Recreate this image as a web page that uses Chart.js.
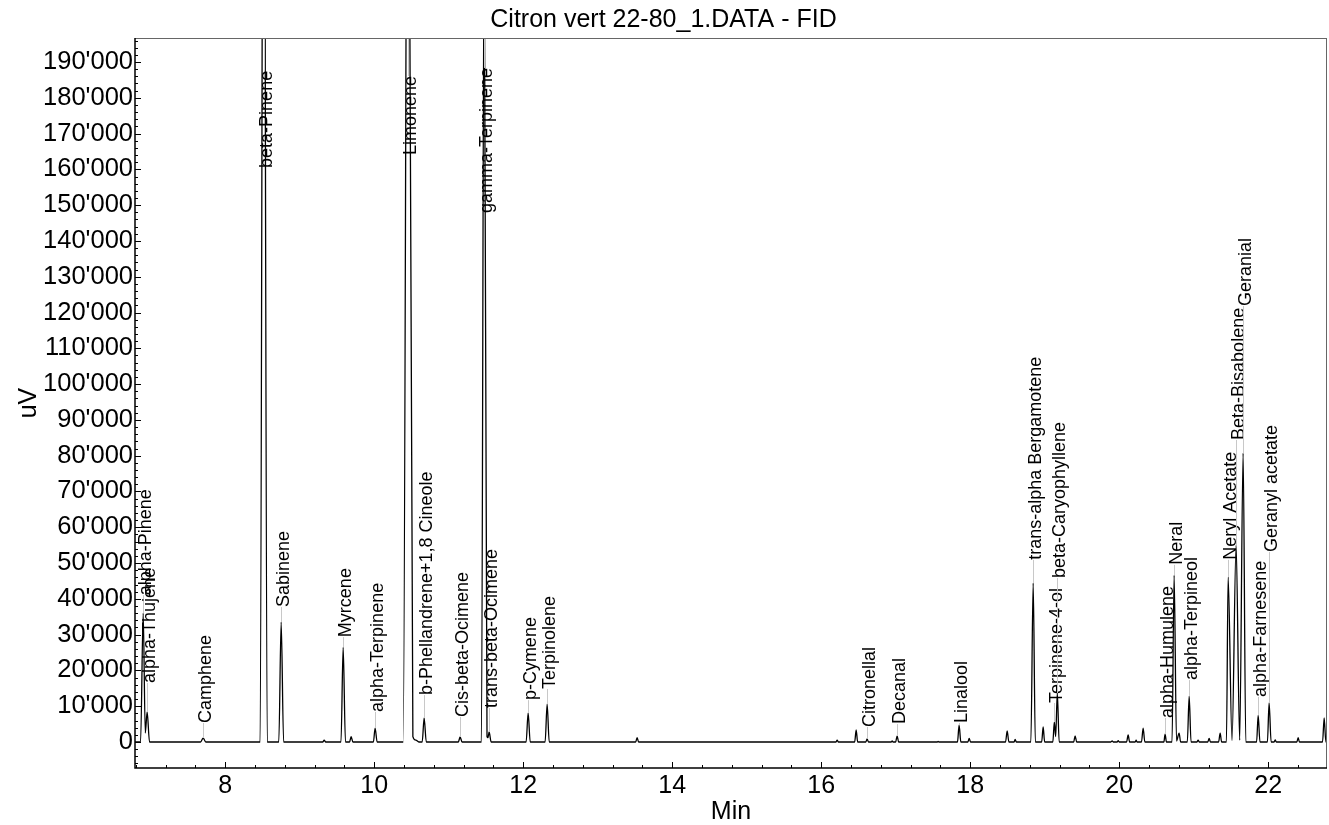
<!DOCTYPE html>
<html>
<head>
<meta charset="utf-8">
<title>Citron vert 22-80_1.DATA - FID</title>
<script src="https://cdn.jsdelivr.net/npm/chart.js@4.4.1/dist/chart.umd.min.js"></script>
<style>
  html, body { margin: 0; padding: 0; background: #fff; }
  #wrap { width: 1329px; height: 825px; }
</style>
</head>
<body>
<div id="wrap"><canvas id="fid"></canvas></div>
<script>
// trace (min / uV)
var timeMin = [
    6.79, 6.865, 6.900, 6.928, 6.953, 6.985,
    7.67, 7.705, 7.74,
    8.47, 8.517, 8.565,
    8.72, 8.752, 8.785,
    9.31, 9.329, 9.35,
    9.555, 9.584, 9.615,
    9.67, 9.691, 9.715,
    9.99, 10.013, 10.04,
    10.39, 10.455, 10.52, 10.56, 10.60,
    10.645, 10.671, 10.70,
    11.13, 11.154, 11.18,
    11.44, 11.477, 11.515, 11.527, 11.544, 11.57,
    12.04, 12.067, 12.095,
    12.295, 12.322, 12.35,
    13.51, 13.53, 13.55,
    16.20, 16.215, 16.23,
    16.45, 16.47, 16.49,
    16.60, 16.617, 16.635,
    16.94, 16.953, 16.965,
    17.00, 17.02, 17.04,
    17.56, 17.57, 17.58,
    17.83, 17.852, 17.875,
    17.97, 17.987, 18.005,
    18.475, 18.497, 18.52,
    18.59, 18.604, 18.62,
    18.815, 18.846, 18.875,
    18.96, 18.98, 19.00,
    19.11, 19.13, 19.148, 19.17, 19.195,
    19.39, 19.409, 19.43,
    19.89, 19.906, 19.92,
    19.975, 19.987, 20.0,
    20.10, 20.121, 20.14,
    20.215, 20.228, 20.24,
    20.30, 20.322, 20.345,
    20.60, 20.617, 20.635,
    20.71, 20.738, 20.77, 20.805, 20.825,
    20.915, 20.94, 20.965,
    21.045, 21.06, 21.075,
    21.19, 21.208, 21.225,
    21.335, 21.356, 21.375,
    21.44, 21.463, 21.515, 21.57, 21.618, 21.664, 21.70,
    21.845, 21.866, 21.89,
    21.99, 22.013, 22.04,
    22.08, 22.094, 22.11,
    22.385, 22.403, 22.42,
    22.73, 22.752, 22.775,
    22.79
];
var signalUv = [
    0, 0, 36000, 2500, 8400, 0,
    0, 1100, 0,
    0, 330000, 0,
    0, 33500, 0,
    0, 500, 0,
    0, 26500, 0,
    0, 1500, 0,
    0, 3900, 0,
    0, 320000, 1500, 500, 0,
    0, 6700, 0,
    0, 1400, 0,
    0, 230000, 1500, 1200, 2800, 0,
    0, 8100, 0,
    0, 10600, 0,
    0, 1200, 0,
    0, 500, 0,
    0, 3400, 0,
    0, 900, 0,
    0, 300, 0,
    0, 1700, 0,
    0, 200, 0,
    0, 4700, 0,
    0, 1000, 0,
    0, 3100, 0,
    0, 700, 0,
    0, 44400, 0,
    0, 4200, 0,
    0, 5600, 1500, 13700, 0,
    0, 1700, 0,
    0, 300, 0,
    0, 400, 0,
    0, 2000, 0,
    0, 500, 0,
    0, 3900, 0,
    0, 2200, 0,
    0, 46600, 300, 2500, 0,
    0, 12800, 0,
    0, 500, 0,
    0, 1000, 0,
    0, 2500, 0,
    0, 46100, 400, 55000, 500, 80700, 0,
    0, 7500, 0,
    0, 10900, 0,
    0, 600, 0,
    0, 1200, 0,
    0, 6700, 0,
    0
];

// peak annotations
var peakNames = ['alpha-Pinene', 'alpha-Thujene', 'Camphene', 'beta-Pinene', 'Sabinene', 'Myrcene',
    'alpha-Terpinene', 'Limonene', 'b-Phellandrene+1,8 Cineole', 'Cis-beta-Ocimene', 'gamma-Terpinene',
    'trans-beta-Ocimene', 'p-Cymene', 'Terpinolene', 'Citronellal', 'Decanal', 'Linalool',
    'trans-alpha Bergamotene', 'Terpinene-4-ol', 'beta-Caryophyllene', 'alpha-Humulene', 'Neral',
    'alpha-Terpineol', 'Neryl Acetate', 'Beta-Bisabolene', 'Geranial', 'alpha-Farnesene', 'Geranyl acetate'];
var peakTimes = [6.900, 6.953, 7.705, 8.517, 8.752, 9.584,
    10.013, 10.455, 10.671, 11.154, 11.477,
    11.544, 12.067, 12.322, 16.617, 17.02, 17.852,
    18.846, 19.13, 19.17, 20.617, 20.738,
    20.94, 21.463, 21.57, 21.664, 21.866, 22.013];
var peakHeights = [36000, 8400, 1100, 330000, 33500, 26500,
    3900, 320000, 6700, 1400, 230000,
    2800, 8100, 10600, 900, 1700, 4700,
    44400, 5600, 13700, 2200, 46600,
    12800, 46100, 55000, 80700, 7500, 10900];
var labelLevels = [41000, 16500, 5300, 160400, 37700, 29300,
    8400, 164000, 13100, 7000, 147800,
    9500, 11700, 14800, 4200, 5000, 5300,
    50900, 10900, 45800, 6700, 49500,
    17300, 50900, 84400, 121800, 12600, 53100];

// axes
var xTickValues = [8, 10, 12, 14, 16, 18, 20, 22];
var yTickValues = [0, 10000, 20000, 30000, 40000, 50000, 60000, 70000, 80000, 90000, 100000,
    110000, 120000, 130000, 140000, 150000, 160000, 170000, 180000, 190000];

var FONT = "'Liberation Sans', Arial, sans-serif";

function fmtThousands(v) {
    return String(v).replace(/\B(?=(\d{3})+(?!\d))/g, "'");
}

var points = timeMin.map(function (t, i) { return { x: t, y: signalUv[i] }; });

// frame + inner tick marks
var framePlugin = {
    id: 'frame',
    afterDraw: function (chart) {
        var ctx = chart.ctx, a = chart.chartArea;
        var xs = chart.scales.x, ys = chart.scales.y;
        ctx.save();
        ctx.lineWidth = 1;
        ctx.strokeStyle = '#666';
        ctx.beginPath();
        ctx.moveTo(a.left, a.top + 0.5); ctx.lineTo(a.right, a.top + 0.5);
        ctx.moveTo(a.right - 0.5, a.top); ctx.lineTo(a.right - 0.5, a.bottom);
        ctx.stroke();
        ctx.strokeStyle = '#000';
        ctx.lineWidth = 1.5;
        ctx.beginPath();
        ctx.moveTo(a.left, a.top); ctx.lineTo(a.left, a.bottom); ctx.lineTo(a.right, a.bottom);
        ctx.stroke();

        ctx.lineWidth = 1;
        ctx.beginPath();
        for (var t = 6.8; t < xs.max; t += 0.4) {
            var px = Math.round(xs.getPixelForValue(t)) + 0.5;
            var major = Math.abs(t / 2 - Math.round(t / 2)) < 0.01;
            ctx.moveTo(px, a.bottom);
            ctx.lineTo(px, a.bottom - (major ? 6 : 3));
        }
        for (var v = -6000; v < ys.max; v += 2000) {
            var py = Math.round(ys.getPixelForValue(v)) + 0.5;
            var maj = v % 10000 === 0;
            ctx.moveTo(a.left, py);
            ctx.lineTo(a.left + (maj ? 6 : 3), py);
        }
        ctx.stroke();
        ctx.restore();
    }
};

// vertical peak names with grey leader lines
var peakLabelPlugin = {
    id: 'peakLabels',
    afterDatasetsDraw: function (chart) {
        var ctx = chart.ctx, a = chart.chartArea;
        var xs = chart.scales.x, ys = chart.scales.y;
        ctx.save();
        ctx.font = '18px ' + FONT;
        peakNames.forEach(function (name, i) {
            var x = Math.round(xs.getPixelForValue(peakTimes[i])) + 0.5;
            var apex = Math.max(ys.getPixelForValue(peakHeights[i]), a.top);
            var base = ys.getPixelForValue(labelLevels[i]);
            var w = ctx.measureText(name).width;
            ctx.strokeStyle = '#c8c8c8';
            ctx.lineWidth = 1;
            ctx.beginPath();
            if (apex > base) {
                ctx.moveTo(x, apex); ctx.lineTo(x, base);
            } else if (apex < base - w) {
                ctx.moveTo(x, base - w); ctx.lineTo(x, apex);
            }
            ctx.stroke();
            ctx.save();
            ctx.translate(x + 3, base);
            ctx.rotate(-Math.PI / 2);
            ctx.fillStyle = '#000';
            ctx.textAlign = 'left';
            ctx.textBaseline = 'middle';
            ctx.fillText(name, 0, 0);
            ctx.restore();
        });
        ctx.restore();
    }
};

var chart = new Chart(document.getElementById('fid').getContext('2d'), {
    type: 'scatter',
    data: {
        datasets: [{
            label: 'FID',
            data: points,
            showLine: true,
            borderColor: '#000',
            borderWidth: 1.3,
            pointRadius: 0,
            fill: false,
            cubicInterpolationMode: 'monotone'
        }]
    },
    options: {
        responsive: true,
        maintainAspectRatio: false,
        animation: false,
        layout: { padding: { left: 0, right: 2, top: 0, bottom: 0 } },
        plugins: {
            legend: { display: false },
            tooltip: { enabled: false },
            title: {
                display: true,
                text: 'Citron vert 22-80_1.DATA - FID',
                color: '#000',
                font: { family: FONT, size: 25, weight: 'normal' },
                padding: { top: 5, bottom: 3 }
            }
        },
        scales: {
            x: {
                type: 'linear',
                min: 6.79,
                max: 22.79,
                afterBuildTicks: function (scale) {
                    scale.ticks = xTickValues.map(function (v) { return { value: v }; });
                },
                afterFit: function (scale) { scale.height = 57; },
                grid: { display: false, drawTicks: false },
                border: { display: false },
                ticks: {
                    autoSkip: false,
                    maxRotation: 0,
                    padding: 3,
                    color: '#000',
                    font: { family: FONT, size: 25 },
                    callback: function (v) { return String(v); }
                },
                title: {
                    display: true,
                    text: 'Min',
                    color: '#000',
                    font: { family: FONT, size: 25, lineHeight: 1.0 },
                    padding: { top: 0, bottom: 0 }
                }
            },
            y: {
                type: 'linear',
                min: -7265,
                max: 196700,
                afterBuildTicks: function (scale) {
                    scale.ticks = yTickValues.map(function (v) { return { value: v }; });
                },
                afterFit: function (scale) { scale.width = 135; },
                grid: { display: false, drawTicks: false },
                border: { display: false },
                ticks: {
                    autoSkip: false,
                    padding: 2,
                    color: '#000',
                    font: { family: FONT, size: 25.5 },
                    callback: function (v) { return fmtThousands(v); }
                },
                title: {
                    display: true,
                    text: 'uV',
                    color: '#000',
                    font: { family: FONT, size: 25 },
                    padding: { top: 14, bottom: 0 }
                }
            }
        }
    },
    plugins: [framePlugin, peakLabelPlugin]
});
</script>
</body>
</html>
